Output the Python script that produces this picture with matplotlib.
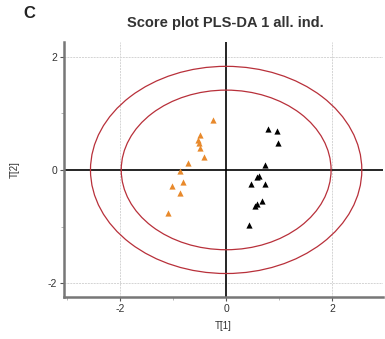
import matplotlib.pyplot as plt
import numpy as np
from matplotlib.patches import Ellipse

plt.rcParams['font.family'] = ['Liberation Sans', 'DejaVu Sans']
plt.rcParams['axes.unicode_minus'] = False

# group 1 (orange) scores
t1_orange = [-0.25, -0.49, -0.53, -0.52, -0.50, -0.41, -0.72, -0.88, -1.02, -0.81, -0.87, -1.10]
t2_orange = [0.89, 0.62, 0.53, 0.47, 0.38, 0.22, 0.12, -0.02, -0.28, -0.22, -0.40, -0.76]
# group 2 (black) scores
t1_black = [0.79, 0.96, 0.97, 0.74, 0.62, 0.58, 0.46, 0.73, 0.55, 0.58, 0.67, 0.44]
t2_black = [0.72, 0.68, 0.48, 0.08, -0.10, -0.12, -0.25, -0.24, -0.63, -0.60, -0.55, -0.97]

# Hotelling T2 ellipses (half widths, half heights)
ell_w = [2.56, 1.98]
ell_h = [1.83, 1.41]

fig = plt.figure(figsize=(3.85, 3.39), dpi=100)
ax = fig.add_axes([64/385, 1 - 297/339, (383-64)/385, (297-42)/339])

ax.set_xlim(-3.06, 2.96)
ax.set_ylim(-2.245, 2.26)

ax.set_xticks([-2, 0, 2])
ax.set_yticks([-2, 0, 2])
ax.set_xticks([-3, -1, 1], minor=True)
ax.set_yticks([-1, 1], minor=True)
ax.tick_params(which='major', length=3, width=0.8, color='#555555',
               labelsize=7.5, labelcolor='#333333', pad=2)
ax.tick_params(which='minor', length=2, width=0.6, color='#aaaaaa')

for v in [-2, 2]:
    ax.axvline(v, color='#d4d4d4', lw=0.7, ls=(0, (2, 1)), zorder=0)
    ax.axhline(v, color='#d4d4d4', lw=0.7, ls=(0, (2, 1)), zorder=0)
ax.axvline(0, color='black', lw=1.2, zorder=1)
ax.axhline(0, color='black', lw=1.2, zorder=1)

for w, h in zip(ell_w, ell_h):
    ax.add_patch(Ellipse((0, 0), 2*w, 2*h, fill=False, edgecolor='#b8303a',
                         lw=0.9, zorder=2))

ax.scatter(t1_orange, t2_orange, marker='^', s=20, color='#e8892b', zorder=3,
           linewidths=0)
ax.scatter(t1_black, t2_black, marker='^', s=20, color='black', zorder=3,
           linewidths=0)

ax.spines['top'].set_visible(False)
ax.spines['right'].set_visible(False)
ax.spines['left'].set(color='#777777', lw=1.8)
ax.spines['bottom'].set(color='#777777', lw=1.8)

ax.set_xlabel('T[1]', fontsize=7, color='#333333', labelpad=5)
ax.set_ylabel('T[2]', fontsize=7, color='#333333', labelpad=20)
fig.text(0.585, 1 - 23/339, 'Score plot PLS-DA 1 all. ind.', ha='center',
         va='center', fontsize=10.5, fontweight='bold', color='#333333')
fig.text(23/385, 1 - 13/339, 'C', ha='left', va='center', fontsize=12,
         fontweight='bold', color='#222222')

plt.savefig('out.png', dpi=100)
